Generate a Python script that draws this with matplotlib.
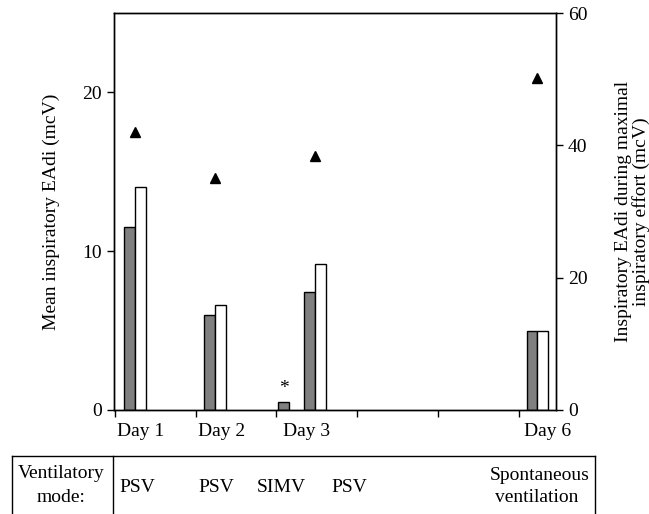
import numpy as np
import matplotlib
matplotlib.use("Agg")
import matplotlib.pyplot as plt
from matplotlib.lines import Line2D
import matplotlib.transforms as mtransforms

plt.rcParams['font.family'] = ['Liberation Serif', 'DejaVu Serif']

# bar groups (x position on the day axis)
group_x = [0.25, 1.24, 2.16, 2.48, 5.23]
mean_gray = [11.5, 6.0, 0.5, 7.45, 5.0]
mean_white = [14.05, 6.6, np.nan, 9.2, 5.0]
max_effort = [42.0, 35.0, np.nan, 38.4, 50.2]   # right axis, triangles

day_ticks = [0, 1, 2, 3, 4, 5]
day_labels = ['Day 1', 'Day 2', 'Day 3', 'Day 6']
day_label_x = [0.32, 1.32, 2.37, 5.35]

modes = ['PSV', 'PSV', 'SIMV', 'PSV']
mode_px = [137, 216, 281, 349]

FS = 14
W, H = 649, 514
fig = plt.figure(figsize=(W / 100, H / 100), dpi=100)
ax = fig.add_axes([114 / W, 1 - 410 / H, (556 - 114) / W, (410 - 13) / H])
ax2 = ax.twinx()

bw = 0.135
gx = np.array(group_x)
ax.bar(gx - bw / 2, mean_gray, width=bw, color='#808080', edgecolor='black', linewidth=1.0, zorder=2)
ax.bar(gx + bw / 2, mean_white, width=bw, color='white', edgecolor='black', linewidth=1.0, zorder=2)
ax2.plot(gx, max_effort, linestyle='none', marker='^', color='black', markersize=7)

# asterisk over the SIMV bar
ax.text(gx[2] - bw / 2, mean_gray[2] + 0.35, '*', ha='center', va='bottom', fontsize=FS)

ax.set_xlim(-0.01, 5.46)
ax.set_ylim(0, 25)
ax2.set_ylim(0, 60)
ax.set_yticks([0, 10, 20])
ax2.set_yticks([0, 20, 40, 60])
ax.set_xticks(day_ticks)
ax.set_xticklabels([])
for a in (ax, ax2):
    a.tick_params(direction='out', length=5, width=1, labelsize=FS, colors='black')
    for s in a.spines.values():
        s.set_linewidth(1)

trans = mtransforms.blended_transform_factory(ax.transData, ax.transAxes)
for lx, lab in zip(day_label_x, day_labels):
    ax.text(lx, -0.055, lab, transform=trans, ha='center', va='center', fontsize=FS)

ax.set_ylabel('Mean inspiratory EAdi (mcV)', fontsize=FS, labelpad=16)
ax2.set_ylabel('Inspiratory EAdi during maximal\ninspiratory effort (mcV)', fontsize=FS,
               labelpad=20, linespacing=1.0)

# table of ventilatory modes under the chart
def fx(px):
    return px / W

def fy(py):
    return 1 - py / H

lw = 1.0
fig.add_artist(Line2D([fx(12), fx(595)], [fy(456), fy(456)], color='black', lw=lw))
fig.add_artist(Line2D([fx(12), fx(12)], [fy(456), 0], color='black', lw=lw))
fig.add_artist(Line2D([fx(113), fx(113)], [fy(456), 0], color='black', lw=lw))
fig.add_artist(Line2D([fx(595), fx(595)], [fy(456), 0], color='black', lw=lw))

fig.text(fx(61), fy(474), 'Ventilatory', ha='center', va='center', fontsize=FS)
fig.text(fx(61), fy(497), 'mode:', ha='center', va='center', fontsize=FS)
for px, m in zip(mode_px, modes):
    fig.text(fx(px), fy(487), m, ha='center', va='center', fontsize=FS)
fig.text(fx(590), fy(475), 'Spontaneous', ha='right', va='center', fontsize=FS)
fig.text(fx(537), fy(498), 'ventilation', ha='center', va='center', fontsize=FS)

fig.savefig('out.png', dpi=100)
